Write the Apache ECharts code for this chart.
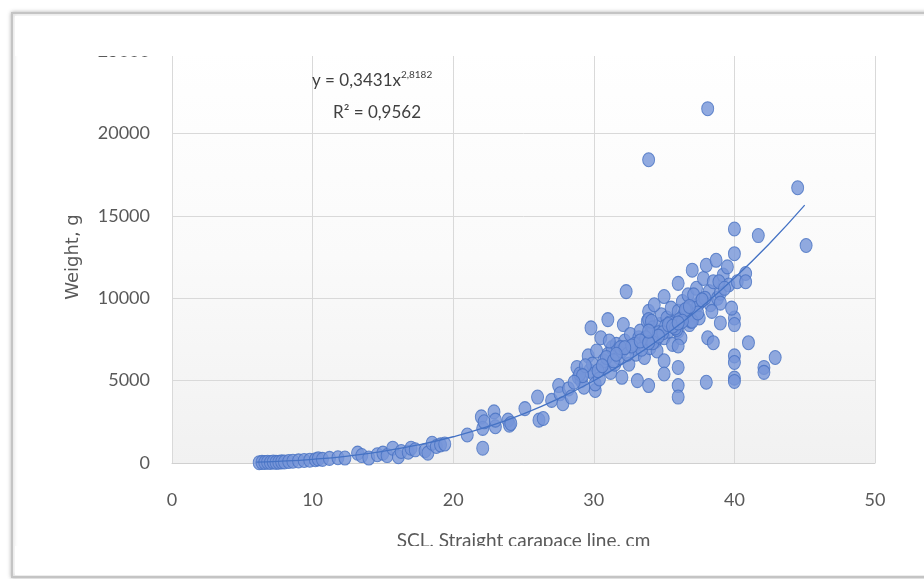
<!DOCTYPE html>
<html><head><meta charset="utf-8">
<script src="https://cdn.jsdelivr.net/npm/echarts@6/dist/echarts.min.js"></script>
<style>html,body{margin:0;padding:0;background:#fff}#c{width:924px;height:579px}</style>
</head><body><div id="c"></div>
<script>
// SCL (cm) and weight (g)
const scl = [6.2,6.4,6.6,6.8,7.0,7.2,7.4,7.6,7.8,8.0,8.3,8.6,9.0,9.4,9.8,10.2,10.4,10.7,11.2,11.8,12.3,13.2,13.5,14.0,14.6,15.0,15.3,15.7,16.1,16.3,16.8,17.0,17.3,18.0,18.2,18.5,18.8,19.1,19.4,
21.0,22.0,22.1,22.1,22.2,22.9,23.0,23.0,23.9,24.0,24.1,25.1,26.0,26.1,26.4,27.0,27.5,27.6,27.8,28.2,28.4,28.8,28.9,29.1,29.3,29.6,29.8,29.7,29.9,30.0,30.1,30.1,30.2,30.5,30.4,30.8,30.7,
31.0,31.0,31.2,31.3,31.5,31.6,31.8,32.0,32.0,32.1,32.2,32.3,32.5,32.6,32.8,33.0,33.1,33.2,33.3,33.5,33.6,33.8,33.9,33.9,33.9,33.9,34.0,34.0,34.2,34.4,34.5,34.7,34.8,35.0,35.0,35.0,35.0,35.2,35.3,35.5,35.6,35.8,
36.0,36.0,36.0,36.0,36.0,36.0,36.2,36.3,36.5,36.7,36.8,37.0,37.0,37.2,37.3,37.5,37.6,37.8,38.0,38.0,38.1,38.1,38.2,38.3,38.5,38.5,38.7,38.8,39.0,39.0,39.0,39.2,39.5,39.6,
40.0,40.0,40.0,40.0,40.0,40.0,40.0,40.0,40.2,40.8,40.8,41.0,41.7,42.1,42.1,42.9,44.5,45.1,
29.0,29.4,30.3,30.9,31.4,31.9,32.4,32.9,33.4,34.1,34.6,35.1,35.4,35.9,36.4,36.9,37.4,37.9,38.4,38.9,39.3,39.8,31.1,32.7,34.3,35.7,36.6,37.1,
33.7,34.2,34.9,35.3,35.8,36.1,36.5,37.0,37.4,37.7,33.3,34.6,35.6,36.3,36.8,32.2,31.6,30.6,29.2,28.6,33.9,33.9,36.0,36.0];
const weight = [20,40,30,50,30,60,40,50,70,60,90,110,130,150,170,200,250,220,280,320,300,600,450,300,500,600,450,900,380,700,650,900,800,750,600,1200,1000,1100,1150,
1700,2800,2100,900,2500,3100,2200,2600,2600,2300,2400,3300,4000,2600,2700,3800,4700,4200,3600,4500,4000,5800,5200,5000,4600,6500,8200,5600,6000,5400,4400,4800,6800,7600,5100,5800,6200,
8700,6600,5500,7000,6000,7200,6400,5200,6800,8400,7400,10400,6000,7800,7000,6600,5000,7600,8000,7200,6400,8600,4700,9200,8700,18400,7000,7800,8200,7400,6800,8400,9000,10100,6200,5400,7600,8800,8000,9400,7200,8600,
10900,5800,4700,4000,9200,8000,7600,9800,8800,10200,8400,11700,9400,9000,10600,8800,9800,11200,12000,4900,7600,21500,10400,9600,7300,11000,12300,10000,10300,9700,8500,11400,11900,10800,
14200,12700,8800,8400,6500,6100,5150,4950,11000,11500,11000,7300,13800,5800,5500,6400,16700,13200,
5400,5900,5600,6400,6200,7000,6600,7200,6900,8600,7900,8300,8500,8100,9000,8600,9600,10000,9200,11000,10600,9400,7400,7100,9600,8300,9300,10200,
7600,7300,7900,8400,8200,8700,9300,8600,9100,9900,7400,7700,8300,8600,9500,7000,6600,5900,5300,4900,7300,8000,7100,8500];
// power trendline y = 0,3431x^2,8182 evaluated at sample lengths
const trendX = [6,7.5,10,12.5,15,17.5,20,22.5,25,27.5,30,32.5,35,37.5,40,42.5,45];
const trendY = [53.5,100,226,423,707,1093,1593,2218,2985,3905,4990,6256,7707,9355,11224,13318,15645];
const xName = 'SCL, Straight carapace line, cm';
const yName = 'Weight, g';

const chart = echarts.init(document.getElementById('c'));
const lab = {color:'#595959', fontFamily:'Lato', fontSize:18, formatter:v=>String(v)};
chart.setOption({
  animation:false,
  grid:{left:172, right:49, top:51, bottom:116, show:true, borderWidth:0,
    backgroundColor:new echarts.graphic.LinearGradient(0,0,0,1,[{offset:0,color:'#ffffff'},{offset:0.5,color:'#fafafa'},{offset:1,color:'#f1f1f1'}])},
  xAxis:{type:'value', min:0, max:50, interval:10,
    axisLine:{show:true, lineStyle:{color:'#d0d0d0'}}, axisTick:{show:false},
    splitLine:{show:true, lineStyle:{color:'#d9d9d9'}},
    axisLabel:Object.assign({margin:28}, lab),
    name:xName, nameLocation:'middle', nameGap:68,
    nameTextStyle:{color:'#595959', fontFamily:'Lato', fontSize:19}},
  yAxis:{type:'value', min:0, max:25000, interval:5000,
    axisLine:{show:true, lineStyle:{color:'#d9d9d9'}}, axisTick:{show:false},
    splitLine:{show:true, lineStyle:{color:'#d9d9d9'}},
    axisLabel:Object.assign({margin:22}, lab),
    name:yName, nameLocation:'middle', nameGap:90,
    nameTextStyle:{color:'#595959', fontFamily:'DejaVu Sans', fontSize:18}},
  series:[
    {type:'scatter', data:scl.map((x,i)=>[x,weight[i]]), symbol:'circle', symbolSize:[12,14],
     itemStyle:{color:'#7595d8', borderColor:'#4670c2', borderWidth:1}},
    {type:'line', data:trendX.map((x,i)=>[x,trendY[i]]), smooth:true, showSymbol:false, z:3,
     lineStyle:{color:'#4472c4', width:1.3}}
  ],
  graphic:[
    {type:'rect', z:-10, silent:true, shape:{x:12, y:13, width:940, height:564},
     style:{fill:'#fff', stroke:'#c4c4c4', lineWidth:2, shadowBlur:4, shadowColor:'rgba(0,0,0,0.25)'}},
    {type:'rect', z:100, silent:true, shape:{x:15, y:16, width:920, height:40}, style:{fill:'#fff'}},
    {type:'rect', z:100, silent:true, shape:{x:15, y:546, width:920, height:29}, style:{fill:'#fff'}},
    {type:'text', z:101, left:312, top:70, style:{text:'{a|y = 0,3431x}{s|2,8182}',
      rich:{a:{fontSize:17, fontFamily:'Lato', fill:'#404040'}, s:{fontSize:10, fontFamily:'Lato', fill:'#404040', padding:[0,0,11,0]}}}},
    {type:'text', z:101, left:333, top:104, style:{text:'R² = 0,9562', fontSize:17, fontFamily:'Lato', fill:'#404040'}}
  ]
});
</script></body></html>
